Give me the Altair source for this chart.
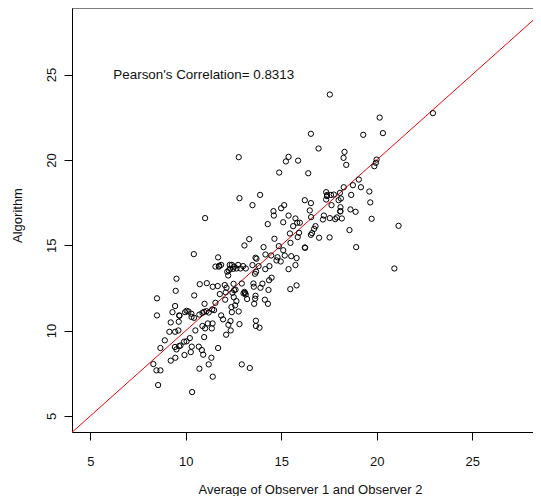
import altair as alt
import pandas as pd

# Observer average (x) and algorithm (y) values
obs_avg = [17.54, 22.94, 20.15, 20.32, 19.29, 16.55, 16.95, 18.31, 18.26, 18.40,
           15.38, 15.24, 15.88, 12.77, 14.89, 16.41, 19.99, 19.95, 19.87, 19.06,
           18.75, 19.17, 19.61, 19.66, 19.73, 21.14, 20.92, 18.92, 18.57, 18.89,
           18.62, 18.66, 18.27, 17.35, 17.39, 17.60, 17.35, 17.75, 18.07, 18.12,
           18.00, 17.63, 18.10, 18.08, 18.17, 17.91, 17.82, 17.54, 17.23, 17.18,
           17.53, 16.98, 16.23, 16.55, 16.49, 16.56, 16.79, 16.72, 16.61, 16.55,
           16.25, 16.23, 15.97, 15.83, 15.74, 15.62, 15.93, 15.86, 15.45, 15.48,
           15.38, 15.10, 15.15, 14.99, 14.59, 14.61, 14.29, 13.89, 13.49, 12.81,
           11.01, 13.32, 13.07, 14.64, 14.87, 14.07, 15.10, 15.18, 15.52, 15.80,
           14.80, 14.97, 14.75, 14.47, 14.17, 14.38, 14.16, 13.70, 13.65, 13.49,
           13.81, 13.68, 13.62, 15.74, 15.38, 15.80, 15.47, 14.49, 14.36, 14.33,
           14.01, 13.91, 13.54, 13.56, 13.65, 13.63, 13.58, 14.14, 14.30, 13.67,
           13.67, 13.86, 13.21, 13.14, 12.93, 13.07, 13.02, 12.86, 13.00, 13.14,
           12.74, 12.65, 12.53, 12.41, 12.32, 12.25, 12.17, 12.22, 12.48, 12.30,
           11.69, 11.73, 11.55, 11.85, 10.42, 9.51, 9.47, 8.49, 8.49, 9.44,
           9.30, 9.65, 9.63, 9.21, 9.14, 9.44, 9.61, 8.90, 8.67, 8.30,
           8.46, 8.67, 8.55, 9.21, 9.45, 9.93, 9.43, 9.51, 9.65, 9.72,
           9.91, 10.04, 10.21, 10.31, 10.26, 10.68, 10.84, 10.91, 10.71, 11.20,
           11.34, 11.41, 10.33, 11.69, 10.96, 10.50, 10.87, 11.01, 11.15, 11.40,
           11.36, 10.43, 10.29, 10.14, 10.04, 9.96, 10.71, 10.87, 10.96, 11.08,
           11.20, 10.98, 11.38, 11.48, 11.55, 11.85, 11.95, 12.11, 12.35, 12.23,
           12.34, 12.41, 12.39, 12.77, 12.81, 12.58, 12.65, 12.51, 12.06, 11.78,
           12.09, 12.44, 12.53, 12.50, 12.04, 12.13, 11.67, 11.41, 11.10, 10.73,
           10.44, 12.93, 13.35, 9.67, 10.30, 11.75, 12.60, 13.10, 17.40, 18.10]

algorithm = [23.83, 22.74, 22.48, 21.57, 21.47, 21.53, 20.67, 20.47, 20.12, 19.71,
             20.18, 19.91, 19.96, 20.16, 19.26, 19.22, 20.02, 19.83, 19.63, 18.85,
             18.52, 18.40, 18.15, 17.51, 16.55, 16.14, 13.64, 14.89, 15.89, 16.96,
             17.10, 17.95, 18.40, 18.11, 17.88, 17.95, 17.68, 17.97, 18.07, 17.74,
             17.64, 17.35, 17.23, 16.98, 16.57, 16.63, 16.53, 16.59, 16.74, 16.51,
             15.46, 15.44, 17.64, 17.47, 17.04, 16.65, 16.12, 15.96, 15.71, 15.61,
             14.85, 14.87, 16.32, 16.32, 16.57, 16.12, 15.73, 15.48, 15.69, 15.14,
             16.74, 16.35, 17.35, 17.17, 17.00, 16.74, 16.24, 17.95, 17.35, 17.76,
             16.59, 15.36, 14.99, 15.38, 14.95, 14.89, 14.71, 14.40, 14.36, 14.25,
             14.30, 14.05, 14.11, 14.40, 14.46, 13.78, 13.60, 14.21, 14.27, 13.84,
             13.78, 13.45, 13.33, 13.84, 13.60, 12.65, 12.43, 13.10, 12.95, 12.38,
             12.75, 12.51, 12.76, 12.57, 12.04, 11.87, 11.57, 11.81, 11.57, 10.58,
             10.27, 10.17, 11.85, 12.12, 12.76, 12.27, 12.18, 13.64, 13.78, 13.64,
             13.85, 13.64, 13.75, 13.85, 13.62, 13.53, 13.45, 13.23, 13.62, 13.85,
             14.29, 13.75, 13.75, 13.85, 14.48, 13.04, 12.33, 11.89, 10.89, 11.44,
             11.08, 10.89, 10.52, 10.48, 9.93, 9.93, 10.01, 9.43, 8.98, 8.04,
             7.67, 7.67, 6.81, 8.24, 8.41, 8.57, 9.04, 8.90, 9.09, 9.13,
             9.35, 9.37, 9.56, 9.06, 8.74, 9.06, 8.86, 8.59, 7.77, 8.02,
             8.41, 7.30, 6.40, 8.98, 9.62, 10.01, 10.27, 10.13, 10.42, 10.42,
             10.13, 10.75, 10.99, 11.12, 11.16, 11.08, 10.94, 11.04, 11.10, 11.14,
             11.06, 11.57, 11.24, 11.20, 11.63, 10.89, 10.66, 9.76, 10.01, 10.34,
             10.56, 11.08, 11.38, 11.12, 10.38, 11.48, 11.73, 11.96, 11.81, 12.14,
             12.24, 12.22, 12.37, 12.74, 12.67, 12.51, 12.61, 12.57, 12.78, 12.72,
             12.06, 8.02, 7.81, 10.87, 10.80, 13.80, 12.40, 12.20, 17.95, 17.00]

identity_line = [3.0, 30.0]
tick_values = [5, 10, 15, 20, 25]
annotation = "Pearson's Correlation= 0.8313"
annot_x, annot_y = [10.94], [25.0]

x_domain = [4.04, 28.18]
y_domain = [4.06, 28.9]

FONT = "Liberation Sans"
PLOT_W, PLOT_H = 461, 424

pts = pd.DataFrame({"x": obs_avg, "y": algorithm})
line_df = pd.DataFrame({"x": identity_line, "y": identity_line})
txt_df = pd.DataFrame({"x": annot_x, "y": annot_y, "t": [annotation]})

xscale = alt.Scale(domain=x_domain, nice=False, zero=False)
yscale = alt.Scale(domain=y_domain, nice=False, zero=False)

xaxis = alt.Axis(
    values=tick_values, grid=False, tickSize=8, labelPadding=15,
    labelFont=FONT, labelFontSize=13, labelColor="#111", labelBaseline="top",
    labelAlign="center", domainColor="#000", tickColor="#000",
    title="Average of Observer 1 and Observer 2", titleFont=FONT, titleFontSize=13,
    titleFontWeight="normal", titleColor="#111", titleBaseline="alphabetic",
    titleAlign="center", titleX=238, titleY=61, labelOverlap=False, labelFlush=False,
)
yaxis = alt.Axis(
    values=tick_values, grid=False, tickSize=8, labelPadding=9,
    labelFont=FONT, labelFontSize=13, labelColor="#111", labelAngle=270,
    labelAlign="center", labelBaseline="alphabetic",
    domainColor="#000", tickColor="#000",
    title="Algorithm", titleFont=FONT, titleFontSize=13, titleFontWeight="normal",
    titleColor="#111", titleAngle=270, titleAlign="center", titleBaseline="alphabetic",
    titleX=-50.5, titleY=207, labelOverlap=False, labelFlush=False,
)

points = alt.Chart(pts).mark_point(
    shape="circle", filled=False, size=28, strokeWidth=1, color="#000", opacity=1
).encode(
    x=alt.X("x:Q", scale=xscale, axis=xaxis),
    y=alt.Y("y:Q", scale=yscale, axis=yaxis),
)

line = alt.Chart(line_df).mark_line(color="#ff0000", strokeWidth=1, clip=True).encode(
    x=alt.X("x:Q", scale=xscale),
    y=alt.Y("y:Q", scale=yscale),
)

text = alt.Chart(txt_df).mark_text(
    font=FONT, fontSize=13.4, align="center", baseline="middle", color="#111"
).encode(
    x=alt.X("x:Q", scale=xscale),
    y=alt.Y("y:Q", scale=yscale),
    text="t:N",
)

top_border = alt.Chart(txt_df).mark_rule(color="#000", strokeWidth=1).encode(
    x=alt.value(0), x2=alt.value(PLOT_W), y=alt.value(0)
)

chart = alt.layer(line, points, text, top_border).properties(
    width=PLOT_W, height=PLOT_H,
    autosize=alt.AutoSizeParams(type="none"),
    padding={"left": 64, "top": 0, "right": 0, "bottom": 64},
    background="white",
).configure_view(stroke=None)

chart.save("out.html", embed_options={"renderer": "svg", "actions": False})
